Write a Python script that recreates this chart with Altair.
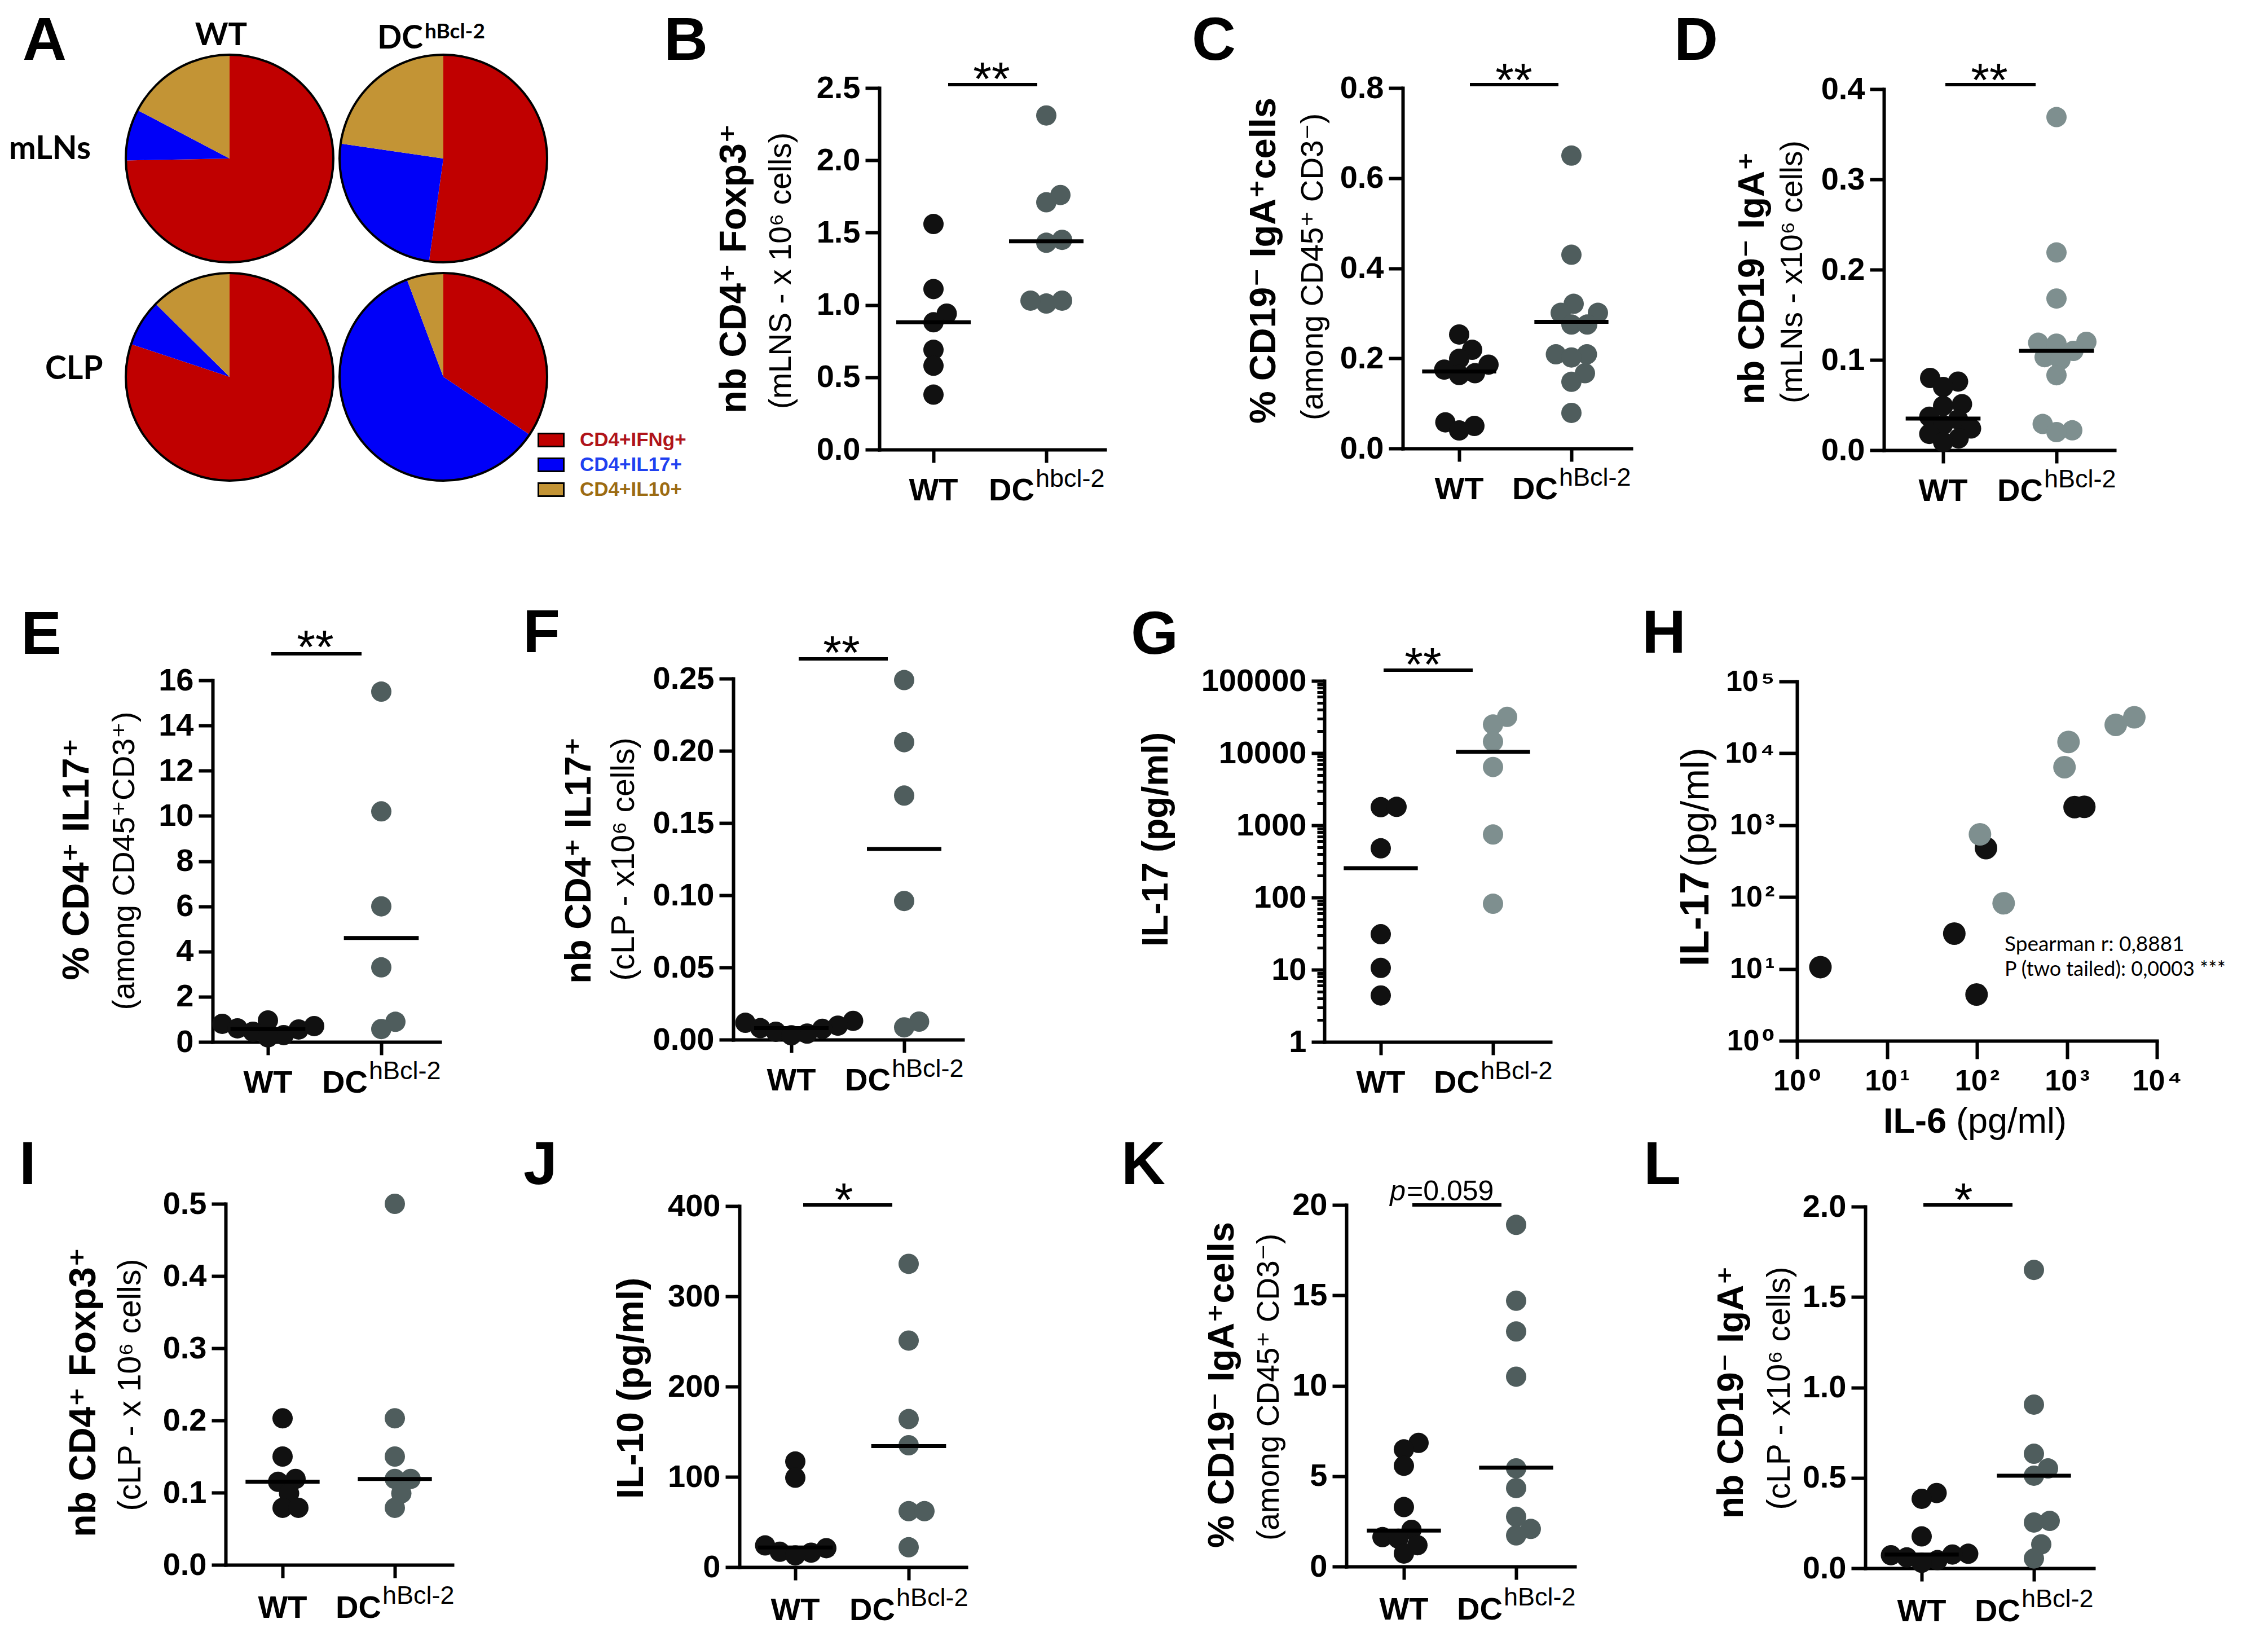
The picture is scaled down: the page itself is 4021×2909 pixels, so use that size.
import math
import altair as alt
import pandas as pd

CW, CH = 4005, 2893
MARGIN = 8


def P(v):
    return v - MARGIN


FONT = "Liberation Sans, Arial, DejaVu Sans, sans-serif"
CAL = "Lato, Open Sans, DejaVu Sans, sans-serif"
INK = "#111111"
DARK = "#4f5d5d"
LIGHT = "#7e8f8f"
PIE_COLORS = ["#C00000", "#0000F8", "#C39435"]
PIE_TEXT = ["#B0141A", "#2040F0", "#9C6B12"]

# ---------------- data ----------------
pie_types = ["CD4+IFNg+", "CD4+IL17+", "CD4+IL10+"]
pie_wt_mlns = [74.7, 8.0, 17.3]
pie_dc_mlns = [52.2, 25.1, 22.7]
pie_wt_clp = [80.1, 7.3, 12.6]
pie_dc_clp = [34.4, 59.9, 5.7]

b_wt = [1.56, 1.11, 0.94, 0.88, 0.69, 0.58, 0.38]
b_dc = [2.31, 1.76, 1.71, 1.45, 1.43, 1.03, 1.01, 1.03]
b_med = [0.88, 1.44]

c_wt = [0.253, 0.219, 0.199, 0.186, 0.175, 0.167, 0.163, 0.058, 0.050, 0.040]
c_dc = [0.65, 0.43, 0.321, 0.301, 0.301, 0.275, 0.275, 0.209, 0.209, 0.202, 0.167, 0.148, 0.079]
c_med = [0.171, 0.281]

d_wt = [0.080, 0.076, 0.070, 0.051, 0.049, 0.037, 0.034, 0.028, 0.024, 0.018, 0.013, 0.009]
d_dc = [0.369, 0.219, 0.168, 0.120, 0.119, 0.118, 0.110, 0.103, 0.100, 0.083, 0.029, 0.022, 0.020]
d_med = [0.035, 0.110]

e_wt = [0.95, 0.80, 0.70, 0.60, 0.55, 0.45, 0.30, 0.20]
e_dc = [15.5, 10.2, 6.0, 3.3, 0.89, 0.57]
e_med = [0.57, 4.6]

f_wt = [0.013, 0.0117, 0.0097, 0.008, 0.0075, 0.0055, 0.0042, 0.003]
f_dc = [0.249, 0.206, 0.169, 0.096, 0.0125, 0.0085]
f_med = [0.008, 0.132]

il17_wt = [1783, 1800, 480, 31, 10.6, 4.4]
il17_dc = [31700, 24900, 14400, 6420, 746, 82]
il6_wt = [1217, 1560, 126, 56, 1.82, 99]
il6_dc = [5610, 3490, 1042, 940, 108, 198]
g_med = [255, 10410]

i_wt = [0.203, 0.150, 0.119, 0.115, 0.099, 0.079, 0.079]
i_dc = [0.500, 0.203, 0.150, 0.119, 0.119, 0.099, 0.079]
i_med = [0.115, 0.119]

j_wt = [117, 99, 24, 21, 17, 16, 13]
j_dc = [336, 251, 164, 135, 62, 62, 22]
j_med = [21.7, 134]

k_wt = [6.84, 6.48, 5.57, 3.29, 2.03, 1.63, 1.54, 1.18, 0.72]
k_dc = [18.9, 14.7, 13.0, 10.5, 5.43, 4.34, 2.75, 2.08, 1.72]
k_med = [1.99, 5.47]

l_wt = [0.416, 0.384, 0.176, 0.080, 0.076, 0.072, 0.060, 0.045, 0.030]
l_dc = [1.65, 0.905, 0.633, 0.552, 0.512, 0.262, 0.253, 0.132, 0.054]
l_med = [0.076, 0.512]

# ---------------- helpers ----------------
ONE = pd.DataFrame({"k": [0]})
PT = 36 ** 2
DIST = 28.0
LETTER_FS = 108


def text(s, x, y, size, weight="bold", font=FONT, align="left", baseline="alphabetic",
         angle=0, color="black", style="normal"):
    return alt.Chart(ONE).mark_text(
        text=s, font=font, fontSize=size, fontWeight=weight, align=align,
        baseline=baseline, angle=angle, color=color, fontStyle=style
    ).encode(x=alt.value(P(x)), y=alt.value(P(y)))


def axis(**kw):
    base = dict(labelFont=FONT, labelFontWeight="bold", labelFontSize=56, labelColor="black",
                tickColor="black", tickWidth=6, domainColor="black", domainWidth=6,
                domainCap="square", grid=False, title=None, labelOverlap=False, labelFlush=False,
                labelLimit=600)
    base.update(kw)
    return alt.Axis(**base)


def swarm(ys, dist):
    n = len(ys)
    order = sorted(range(n), key=lambda i: -ys[i])
    xs = [0.0] * n
    placed = []
    for i in order:
        k = 0
        found = None
        while found is None:
            cands = [0.0] if k == 0 else [k * 0.5, -k * 0.5]
            for c in cands:
                if all((c - xs[j]) ** 2 + (ys[i] - ys[j]) ** 2 >= dist * dist for j in placed):
                    found = c
                    break
            k += 1
        xs[i] = found
        placed.append(i)
    return xs


def dot_panel(p):
    out = []
    L, R, T, Bm = p["L"], p["R"], p["T"], p["Bm"]
    wx, dcx = p["wx"], p["dx"]
    unit = dcx - wx
    xsc = alt.Scale(domain=[1 - (wx - L) / unit, 2 + (R - dcx) / unit],
                    range=[P(L), P(R)], nice=False, zero=False)
    lo, hi = p["dom"]
    if p.get("log"):
        ysc = alt.Scale(type="log", domain=[lo, hi], range=[P(Bm), P(T)], nice=False)

        def ypix(v):
            return Bm - (math.log10(v) - math.log10(lo)) / (math.log10(hi) - math.log10(lo)) * (Bm - T)
    else:
        ysc = alt.Scale(domain=[lo, hi], range=[P(Bm), P(T)], nice=False, zero=False)

        def ypix(v):
            return Bm - (v - lo) / (hi - lo) * (Bm - T)

    def conv(xp):
        return 1 + (xp - wx) / unit

    def xd(v):
        return alt.XDatum(v, type="quantitative", scale=xsc, axis=None)

    rows = []
    for gi, (g, vals) in enumerate([("WT", p["wt"]), ("DC", p["dc"])]):
        offs = swarm([ypix(v) for v in vals], DIST)
        for v, o in zip(vals, offs):
            rows.append({"g": g, "x": gi + 1 + o / unit, "v": v})
    df = pd.DataFrame(rows)

    yaxis = axis(orient="left", offset=-P(L), values=p["ticks"], format=p["fmt"],
                 tickSize=p.get("tick", 25), labelPadding=9)
    xaxis = axis(orient="bottom", offset=P(Bm) - CH, values=[1, 2], labels=False, tickSize=23)
    out.append(alt.Chart(df).mark_circle(size=PT, opacity=1).encode(
        x=alt.X("x:Q", scale=xsc, axis=xaxis),
        y=alt.Y("v:Q", scale=ysc, axis=yaxis),
        color=alt.Color("g:N", scale=alt.Scale(domain=["WT", "DC"], range=[INK, p["color"]]),
                        legend=None)))

    if p.get("minor"):
        minor = [m * 10 ** k for k in range(5) for m in range(2, 10)]
        out.append(alt.Chart(df).mark_point(opacity=0).encode(
            x=alt.X("x:Q", scale=xsc, axis=None),
            y=alt.Y("v:Q", scale=ysc, axis=axis(orient="left", offset=-P(L), values=minor,
                                                  labels=False, domain=False, tickSize=13,
                                                  tickWidth=5))))

    mdf = pd.DataFrame({"g": [1, 2], "m": p["med"]})
    out.append(alt.Chart(mdf).transform_calculate(
        x1="datum.g - 0.33", x2="datum.g + 0.33"
    ).mark_rule(color="black", strokeWidth=7).encode(
        x=alt.X("x1:Q", scale=xsc, axis=None), x2="x2:Q",
        y=alt.Y("m:Q", scale=ysc, axis=None)))

    ylab = Bm + p.get("lab_dy", 90)
    ysup = Bm + p.get("sup_dy", 66)
    out.append(alt.Chart(ONE).mark_text(text="WT", font=FONT, fontSize=56, fontWeight="bold",
                                        align="center", baseline="alphabetic").encode(
        x=xd(1), y=alt.value(P(ylab))))
    out.append(alt.Chart(ONE).mark_text(text="DC", font=FONT, fontSize=56, fontWeight="bold",
                                        align="right", baseline="alphabetic", dx=p["junc"]).encode(
        x=xd(2), y=alt.value(P(ylab))))
    out.append(alt.Chart(ONE).mark_text(text=p["sup"], font=FONT, fontSize=45, fontWeight="normal",
                                        align="left", baseline="alphabetic", dx=p["junc"] + 2).encode(
        x=xd(2), y=alt.value(P(ysup))))

    if p.get("sig"):
        x1, x2, yb, lab, tcx, tcy = p["sig"]
        out.append(alt.Chart(ONE).mark_rule(color="black", strokeWidth=6).encode(
            x=xd(conv(x1)), x2=alt.X2Datum(conv(x2)), y=alt.value(P(yb))))
        if lab:
            out.append(alt.Chart(ONE).mark_text(text=lab, font=FONT, fontSize=84,
                                                fontWeight="normal", align="center",
                                                baseline="alphabetic").encode(
                x=xd(conv(tcx)), y=alt.value(P(tcy + 0.6 * 84))))
    for (s, xp, yp, size, style, align) in p.get("extra", []):
        out.append(alt.Chart(ONE).mark_text(text=s, font=FONT, fontSize=size, fontWeight="normal",
                                            fontStyle=style, align=align,
                                            baseline="alphabetic").encode(
            x=xd(conv(xp)), y=alt.value(P(yp))))

    for (s, bx, cy, fs, wt) in p["titles"]:
        out.append(text(s, bx, cy, fs, weight=wt, align="center", angle=270))
    lt, lx, ly = p["letter"]
    out.append(text(lt, lx, ly, LETTER_FS))
    return out


layers = []

# ---------------- Panel A (pies) ----------------
pie_rows = []
for tissue, gen, vals in [("mLNs", "WT", pie_wt_mlns), ("mLNs", "DC", pie_dc_mlns),
                          ("CLP", "WT", pie_wt_clp), ("CLP", "DC", pie_dc_clp)]:
    cum = 0.0
    for t, v in zip(pie_types, vals):
        pie_rows.append(dict(tissue=tissue, gen=gen, type=t, start=cum, end=cum + v))
        cum += v
pie_df = pd.DataFrame(pie_rows)
sc_gen = alt.Scale(type="point", domain=["WT", "DC"], range=[P(407), P(786)], padding=0)
sc_tis = alt.Scale(type="point", domain=["mLNs", "CLP"], range=[P(281), P(668)], padding=0)
layers.append(alt.Chart(pie_df).mark_arc(radius=184).encode(
    x=alt.X("gen:N", scale=sc_gen, axis=None),
    y=alt.Y("tissue:N", scale=sc_tis, axis=None),
    theta=alt.Theta("start:Q", scale=alt.Scale(domain=[0, 100], range=[0, 2 * math.pi]), stack=None),
    theta2="end:Q",
    color=alt.Color("type:N", scale=alt.Scale(domain=pie_types, range=PIE_COLORS), legend=None)))
outline_df = pie_df[["tissue", "gen"]].drop_duplicates()
layers.append(alt.Chart(outline_df).mark_point(shape="circle", size=368 ** 2, filled=False,
                                               strokeWidth=4, color="black", opacity=1).encode(
    x=alt.X("gen:N", scale=sc_gen, axis=None),
    y=alt.Y("tissue:N", scale=sc_tis, axis=None)))
leg_df = pd.DataFrame({"type": pie_types})
sc_leg = alt.Scale(type="point", domain=pie_types, range=[P(780), P(868)], padding=0)
layers.append(alt.Chart(leg_df).mark_point(shape="M-1,-0.51H1V0.51H-1Z", size=2025, filled=True,
                                           stroke="black", strokeWidth=3, opacity=1).encode(
    x=alt.value(P(977)),
    y=alt.Y("type:N", scale=sc_leg, axis=None),
    fill=alt.Fill("type:N", scale=alt.Scale(domain=pie_types, range=PIE_COLORS), legend=None)))
layers.append(alt.Chart(leg_df).mark_text(font=FONT, fontSize=35, fontWeight="bold", align="left",
                                          baseline="middle").encode(
    x=alt.value(P(1028)),
    y=alt.Y("type:N", scale=sc_leg, axis=None),
    text="type:N",
    color=alt.Color("type:N", scale=alt.Scale(domain=pie_types, range=PIE_TEXT), legend=None)))
layers.append(text("WT", 392, 80, 56, font=CAL, align="center"))
layers.append(text("DC", 750, 86, 57, font=CAL, align="right"))
layers.append(text("hBcl-2", 753, 68, 37, font=CAL, align="left"))
layers.append(text("mLNs", 16, 282, 57, font=CAL))
layers.append(text("CLP", 80, 672, 57, font=CAL))
layers.append(text("A", 40, 106, LETTER_FS))

# ---------------- dot panels ----------------
panels = [
    dict(wt=b_wt, dc=b_dc, med=b_med, L=1559, R=1959, T=156, Bm=797, wx=1655, dx=1855,
         dom=(0, 2.5), ticks=[0, 0.5, 1, 1.5, 2, 2.5], fmt=".1f", color=DARK, sup="hbcl-2", junc=-21,
         titles=[("nb CD4⁺ Foxp3⁺", 1322, 476, 66, "bold"), ("(mLNS - x 10⁶ cells)", 1402, 480, 55, "normal")],
         sig=(1681, 1839, 150, "**", 1758, 119), letter=("B", 1177, 106)),
    dict(wt=c_wt, dc=c_dc, med=c_med, L=2487, R=2892, T=156, Bm=795, wx=2587, dx=2786,
         dom=(0, 0.8), ticks=[0, 0.2, 0.4, 0.6, 0.8], fmt=".1f", color=DARK, sup="hBcl-2", junc=-24,
         titles=[("% CD19⁻ IgA⁺cells", 2261, 462, 65, "bold"), ("(among CD45⁺ CD3⁻)", 2345, 473, 55, "normal")],
         sig=(2606, 2763, 150, "**", 2684, 121), letter=("C", 2113, 106)),
    dict(wt=d_wt, dc=d_dc, med=d_med, L=3340, R=3749, T=158, Bm=798, wx=3445, dx=3646,
         dom=(0, 0.4), ticks=[0, 0.1, 0.2, 0.3, 0.4], fmt=".1f", color=LIGHT, sup="hBcl-2", junc=-24,
         titles=[("nb CD19⁻ IgA⁺", 3127, 493, 64, "bold"), ("(mLNs - x10⁶ cells)", 3195, 482, 55, "normal")],
         sig=(3449, 3609, 150, "**", 3527, 121), letter=("D", 2968, 106)),
    dict(wt=e_wt, dc=e_dc, med=e_med, L=377, R=780, T=1206, Bm=1847, wx=475, dx=676,
         dom=(0, 16), ticks=list(range(0, 17, 2)), fmt="d", color=DARK, sup="hBcl-2", junc=-24,
         titles=[("% CD4⁺ IL17⁺", 157, 1523, 66, "bold"), ("(among CD45⁺CD3⁺)", 238, 1526, 55, "normal")],
         sig=(481, 641, 1159, "**", 559, 1126), letter=("E", 37, 1159)),
    dict(wt=f_wt, dc=f_dc, med=f_med, L=1300, R=1707, T=1203, Bm=1843, wx=1403, dx=1603,
         dom=(0, 0.25), ticks=[0, 0.05, 0.1, 0.15, 0.2, 0.25], fmt=".2f", color=DARK, sup="hBcl-2", junc=-24,
         titles=[("nb CD4⁺ IL17⁺", 1047, 1525, 64, "bold"), ("(cLP - x10⁶ cells)", 1124, 1523, 57, "normal")],
         sig=(1416, 1574, 1168, "**", 1492, 1136), letter=("F", 927, 1156)),
    dict(wt=il17_wt, dc=il17_dc, med=g_med, L=2348, R=2749, T=1207, Bm=1847, wx=2448, dx=2647,
         dom=(1, 100000), log=True, minor=True, ticks=[1, 10, 100, 1000, 10000, 100000], fmt="d",
         tick=23, color=LIGHT, sup="hBcl-2", junc=-24,
         titles=[("IL-17 (pg/ml)", 2070, 1488, 64, "bold")],
         sig=(2453, 2611, 1188, "**", 2523, 1157), letter=("G", 2005, 1159)),
    dict(wt=i_wt, dc=i_dc, med=i_med, L=400, R=802, T=2134, Bm=2774, wx=501, dx=700,
         dom=(0, 0.5), ticks=[0, 0.1, 0.2, 0.3, 0.4, 0.5], fmt=".1f", color=DARK, sup="hBcl-2", junc=-24,
         lab_dy=94, sup_dy=69,
         titles=[("nb CD4⁺ Foxp3⁺", 169, 2468, 66, "bold"), ("(cLP - x 10⁶ cells)", 249, 2455, 57, "normal")],
         letter=("I", 34, 2099)),
    dict(wt=j_wt, dc=j_dc, med=j_med, L=1311, R=1713, T=2138, Bm=2778, wx=1410, dx=1611,
         dom=(0, 400), ticks=[0, 100, 200, 300, 400], fmt="d", color=DARK, sup="hBcl-2", junc=-24,
         lab_dy=94, sup_dy=69,
         titles=[("IL-10 (pg/ml)", 1140, 2461, 66, "bold")],
         sig=(1424, 1582, 2136, "*", 1496, 2106), letter=("J", 928, 2099)),
    dict(wt=k_wt, dc=k_dc, med=k_med, L=2387, R=2792, T=2136, Bm=2777, wx=2489, dx=2688,
         dom=(0, 20), ticks=[0, 5, 10, 15, 20], fmt="d", color=DARK, sup="hBcl-2", junc=-24,
         lab_dy=94, sup_dy=69,
         titles=[("% CD19⁻ IgA⁺cells", 2187, 2455, 65, "bold"), ("(among CD45⁺ CD3⁻)", 2267, 2459, 55, "normal")],
         sig=(2504, 2662, 2136, None, 0, 0),
         extra=[("p", 2492, 2128, 50, "italic", "right"), ("=0.059", 2494, 2128, 50, "normal", "left")],
         letter=("K", 1988, 2099)),
    dict(wt=l_wt, dc=l_dc, med=l_med, L=3307, R=3712, T=2139, Bm=2780, wx=3407, dx=3606,
         dom=(0, 2), ticks=[0, 0.5, 1, 1.5, 2], fmt=".1f", color=DARK, sup="hBcl-2", junc=-24,
         lab_dy=94, sup_dy=69,
         titles=[("nb CD19⁻ IgA⁺", 3090, 2468, 64, "bold"), ("(cLP - x10⁶ cells)", 3173, 2461, 57, "normal")],
         sig=(3410, 3568, 2136, "*", 3481, 2106), letter=("L", 2914, 2099)),
]
for p in panels:
    layers.extend(dot_panel(p))

# ---------------- Panel H (correlation) ----------------
HL, HR, HT, HB = 3186, 3824, 1208, 1845
sup_digits = ["⁰", "¹", "²", "³", "⁴", "⁵"]
lab_expr = ""
for k, s in enumerate(sup_digits):
    lab_expr += f"datum.value < {5 * 10 ** k} ? '10\u200a{s}' : "
lab_expr += "''"
h_rows = ([{"g": "WT", "il6": a, "il17": b} for a, b in zip(il6_wt, il17_wt)] +
          [{"g": "DC", "il6": a, "il17": b} for a, b in zip(il6_dc, il17_dc)])
h_df = pd.DataFrame(h_rows)
hx = alt.Scale(type="log", domain=[1, 10000], range=[P(HL), P(HR)], nice=False)
hy = alt.Scale(type="log", domain=[1, 100000], range=[P(HB), P(HT)], nice=False)
layers.append(alt.Chart(h_df).mark_circle(size=40 ** 2, opacity=1).encode(
    x=alt.X("il6:Q", scale=hx, axis=axis(orient="bottom", offset=P(HB) - CH,
                                          values=[1, 10, 100, 1000, 10000], labelExpr=lab_expr,
                                          tickSize=32, labelPadding=14, labelFontSize=52)),
    y=alt.Y("il17:Q", scale=hy, axis=axis(orient="left", offset=-P(HL),
                                           values=[1, 10, 100, 1000, 10000, 100000],
                                           labelExpr=lab_expr, tickSize=32, labelPadding=8,
                                           labelFontSize=52)),
    color=alt.Color("g:N", scale=alt.Scale(domain=["WT", "DC"], range=[INK, LIGHT]), legend=None)))
layers.append(text("IL-17", 3029, 1545, 72, align="right", angle=270))
layers.append(text("(pg/ml)", 3029, 1537, 68, weight="normal", align="left", angle=270))
layers.append(text("IL-6", 3451, 2008, 63, align="right"))
layers.append(text("(pg/ml)", 3468, 2008, 63, weight="normal", align="left"))
layers.append(text("Spearman r: 0,8881", 3554, 1686, 37, weight="normal", font=CAL))
layers.append(text("P (two tailed): 0,0003 ***", 3554, 1730, 36, weight="normal", font=CAL))
layers.append(text("H", 2911, 1157, LETTER_FS))

chart = alt.layer(*layers).resolve_scale(
    x="independent", y="independent", color="independent", fill="independent"
).resolve_axis(
    x="independent", y="independent"
).properties(
    width=CW, height=CH, autosize=alt.AutoSizeParams(type="none"), padding=0, background="white"
).configure_view(stroke=None)

chart.save("out.html", embed_options={"renderer": "svg", "actions": False})
